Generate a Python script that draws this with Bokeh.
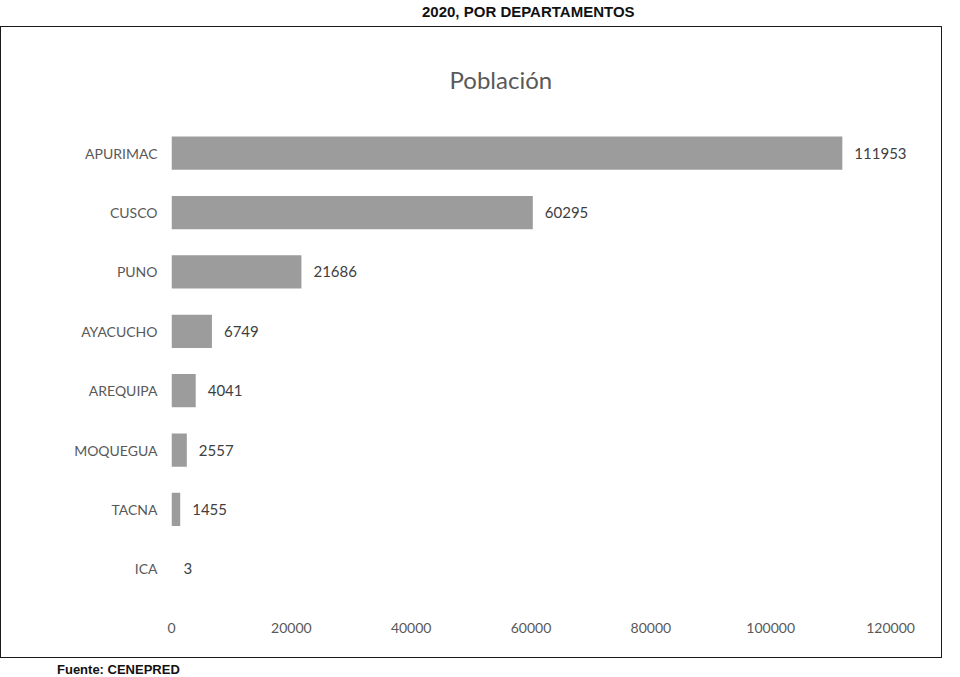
from bokeh.plotting import figure
from bokeh.models import ColumnDataSource, Div, NumeralTickFormatter, FixedTicker
from bokeh.layouts import column
from bokeh.core.properties import value
from bokeh.embed import file_html
from bokeh.resources import INLINE

# Data
departamentos = ["APURIMAC", "CUSCO", "PUNO", "AYACUCHO", "AREQUIPA", "MOQUEGUA", "TACNA", "ICA"]
poblacion = [111953, 60295, 21686, 6749, 4041, 2557, 1455, 3]
x_ticks = [0, 20000, 40000, 60000, 80000, 100000, 120000]

src = ColumnDataSource(dict(dep=departamentos, pob=poblacion,
                            lbl=[str(v) for v in poblacion]))

p = figure(width=942, height=632, y_range=list(reversed(departamentos)),
           x_range=(0, 127500), output_backend="svg", toolbar_location=None,
           title="Población", min_border_left=170, min_border_right=8,
           min_border_top=96, min_border_bottom=61)
p.styles = {"border": "1.5px solid #1a1a1a"}

p.title.align = "left"
p.title.text_font = "Lato"
p.title.text_font_style = "normal"
p.title.text_font_size = "24px"
p.title.text_color = "#595959"
p.title.offset = 278
p.title.standoff = 60

p.hbar(y="dep", right="pob", left=0, height=0.56, source=src,
       fill_color="#9c9c9c", line_color=None)
p.text(x="pob", y="dep", text="lbl", source=src, x_offset=12,
       text_font=value("Lato"), text_font_size="15px", text_color="#404040",
       text_baseline="middle", text_align="left")

p.xgrid.visible = False
p.ygrid.visible = False
p.outline_line_color = None
for ax in (p.xaxis, p.yaxis):
    ax.axis_line_color = None
    ax.major_tick_line_color = None
    ax.minor_tick_line_color = None
    ax.major_label_text_font = "Lato"
    ax.major_label_text_color = "#595959"
    ax.major_label_text_font_size = "14px"
p.xaxis.ticker = FixedTicker(ticks=x_ticks)
p.xaxis.formatter = NumeralTickFormatter(format="0")
p.xaxis.major_label_standoff = 18
p.yaxis.major_label_standoff = 8

top = Div(text='<div style="position:absolute; left:417px; top:-1px; '
               'font: bold 15px \'Liberation Sans\', Arial; line-height:16px; white-space:nowrap; color:#111;">'
               '2020, POR DEPARTAMENTOS</div>',
          width=944, height=16, styles={"position": "relative"})
bottom = Div(text='<div style="position:absolute; left:52px; top:0px; '
                  'font: bold 13px \'Liberation Sans\', Arial; line-height:13px; white-space:nowrap; color:#111;">'
                  'Fuente: CENEPRED</div>',
             width=944, height=13, styles={"position": "relative"})

layout = column(top, p, bottom, spacing=0)
open("out.html", "w").write(file_html(layout, INLINE))
